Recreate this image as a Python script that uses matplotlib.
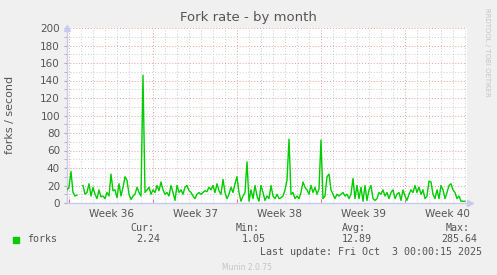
import numpy as np
import matplotlib
matplotlib.use("Agg")
import matplotlib.pyplot as plt

W, H = 497, 275

# fork rate samples, one every 4 hours, starting at the left edge of the graph
forks = [
    15, 18, 36, 12, 8, 9, np.nan, np.nan, 20, 10, 12, 22, 8, 18, 10, 5, 15, 7, 8, 5,
    12, 8, 33, 14, 15, 6, 22, 8, 18, 30, 26, 10, 4, 8, 10, 18, 12, 8, 146, 12,
    15, 18, 10, 15, 12, 20, 14, 24, 15, 10, 12, 8, 20, 12, 3, 20, 12, 15, 10, 18,
    20, 14, 12, 8, 5, 10, 12, 10, 12, 14, 13, 18, 15, 20, 12, 22, 14, 10, 27, 12,
    5, 10, 18, 12, 22, 30, 12, 2, 8, 12, 47, 2, 15, 5, 20, 8, 2, 20, 12, 3,
    8, 5, 20, 8, 5, 10, 5, 6, 8, 15, 26, 73, 10, 12, 5, 8, 5, 12, 24, 18,
    15, 10, 20, 12, 18, 10, 16, 72, 5, 8, 30, 33, 15, 10, 5, 10, 8, 10, 12, 8,
    10, 5, 10, 28, 5, 20, 5, 18, 2, 20, 3, 15, 20, 5, 3, 5, 12, 10, 15, 8,
    12, 5, 12, 15, 5, 10, 12, 3, 15, 8, 3, 10, 15, 12, 20, 12, 18, 10, 15, 5,
    8, 25, 24, 10, 5, 15, 5, 20, 15, 5, 12, 20, 22, 15, 12, 5, 8, 2, 2, 2,
]
step_days = 4 / 24
span_days = 400 / 12          # 12 px per day
week_starts = [0.17, 7.17, 14.17, 21.17, 28.17]
week_labels = ["Week 36", "Week 37", "Week 38", "Week 39", "Week 40"]

legend_cols = ["Cur:", "Min:", "Avg:", "Max:"]
legend_vals = ["2.24", "1.05", "12.89", "285.64"]

t = np.arange(len(forks)) * step_days

bg = "#F0F0F0"
txt = "#555555"
mono = "DejaVu Sans Mono"

fig = plt.figure(figsize=(W / 100, H / 100), dpi=100, facecolor=bg)
ax = fig.add_axes([67 / W, 72 / H, 400 / W, 175 / H])
ax.set_facecolor("white")

ax.plot(t, forks, color="#00CC00", lw=1.0, zorder=3)

ax.set_xlim(0, span_days)
ax.set_ylim(0, 200)

# grid: minor grey, major red, dotted
ax.set_yticks(np.arange(0, 201, 20))
ax.set_yticks(np.arange(0, 201, 10), minor=True)
ax.set_xticks(week_starts)
ax.set_xticks(np.arange(0.17, span_days, 1.0), minor=True)
ax.grid(which="minor", color="#CCCCCC", ls=(0, (1, 2)), lw=0.7, zorder=1)
ax.grid(which="major", color="#E8A0A0", ls=(0, (1, 2)), lw=0.7, zorder=2)
ax.set_xticklabels([])
ax.tick_params(axis="x", which="major", length=3, color="#E08080", direction="in")
ax.tick_params(axis="x", which="minor", length=0)
ax.tick_params(axis="y", which="both", length=2, color="#AAAAAA", labelsize=7.5,
               labelcolor=txt, pad=3)

for s in ["top", "right"]:
    ax.spines[s].set_visible(False)
for s in ["left", "bottom"]:
    ax.spines[s].set_color("#C8C8F0")
    ax.spines[s].set_linewidth(1.0)

# axis arrows
ax.plot([0], [1.0], marker="^", ms=5, color="#C8C8F0", transform=ax.transAxes,
        clip_on=False)
ax.plot([1.008], [0], marker=">", ms=5, color="#C8C8F0", transform=ax.transAxes,
        clip_on=False)

for ws, lab in zip(week_starts, week_labels):
    ax.text(ws + 3.5, -0.035, lab, transform=ax.get_xaxis_transform(),
            ha="center", va="top", fontsize=7.5, color=txt)


def ftext(x, y, s, **kw):
    fig.text(x / W, 1 - y / H, s, **kw)


ftext(248, 18, "Fork rate - by month", ha="center", va="center",
      fontsize=9.5, color=txt)
ftext(10, 115, "forks / second", ha="center", va="center", rotation=90,
      fontsize=8, color=txt)
ftext(487, 52, "RRDTOOL / TOBI OETIKER", ha="center", va="center", rotation=270,
      fontsize=5, color="#C4C4C4")

# legend
fig.patches.append(plt.Rectangle((13 / W, 1 - 243 / H), 6 / W, 6 / H,
                                 transform=fig.transFigure, color="#00CC00"))
ftext(27, 239, "forks", ha="left", va="center", fontsize=7.2, family=mono, color=txt)
col_x = [160, 266, 372, 477]
for cx, c, v in zip(col_x, legend_cols, legend_vals):
    ftext(cx - 6 if c != "Max:" else cx - 7, 228, c, ha="right", va="center",
          fontsize=7.2, family=mono, color=txt)
    ftext(cx, 239, v, ha="right", va="center", fontsize=7.2, family=mono, color=txt)
ftext(482, 252, "Last update: Fri Oct  3 00:00:15 2025", ha="right", va="center",
      fontsize=7.2, family=mono, color=txt)
ftext(247, 267, "Munin 2.0.75", ha="center", va="center", fontsize=5.5,
      color="#C4C4C4")

fig.savefig("out.png", dpi=100, facecolor=bg)
